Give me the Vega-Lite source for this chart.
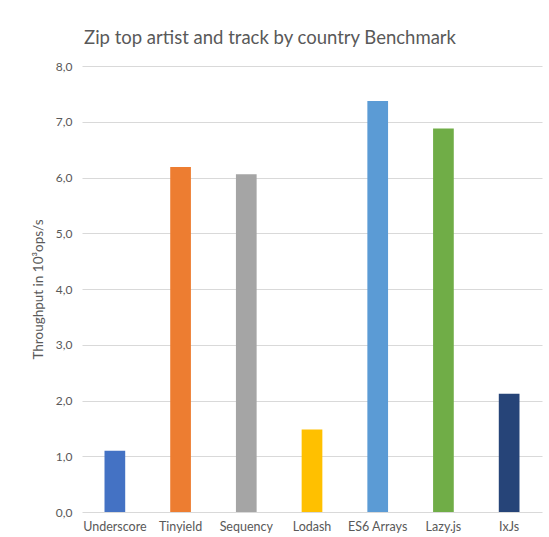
{
  "$schema": "https://vega.github.io/schema/vega-lite/v6.json",
  "autosize": {"type": "none"},
  "width": 460,
  "height": 446,
  "padding": {"left": 82, "top": 66, "right": 7, "bottom": 25},
  "background": "white",
  "title": {
    "text": "Zip top artist and track by country Benchmark",
    "font": "Lato",
    "fontSize": 18.5,
    "fontWeight": "normal",
    "color": "#595959",
    "anchor": "middle",
    "frame": "group",
    "dx": -42,
    "offset": 13
  },
  "data": {
    "values": [
      {"library": "Underscore", "throughput": 1.10},
      {"library": "Tinyield", "throughput": 6.19},
      {"library": "Sequency", "throughput": 6.06},
      {"library": "Lodash", "throughput": 1.48},
      {"library": "ES6 Arrays", "throughput": 7.37},
      {"library": "Lazy.js", "throughput": 6.88},
      {"library": "IxJs", "throughput": 2.12}
    ]
  },
  "mark": {"type": "bar"},
  "encoding": {
    "x": {
      "field": "library",
      "type": "nominal",
      "sort": null,
      "scale": {"paddingInner": 0.685, "paddingOuter": 0.3425},
      "axis": {
        "title": null,
        "labelAngle": 0,
        "labelFont": "Lato",
        "labelFontSize": 12.5,
        "labelColor": "#595959",
        "labelPadding": 8,
        "ticks": false,
        "domain": false,
        "grid": false
      }
    },
    "y": {
      "field": "throughput",
      "type": "quantitative",
      "scale": {"domain": [0, 8], "nice": false},
      "axis": {
        "title": "Throughput in 10³ops/s",
        "titleFont": "Lato",
        "titleFontSize": 13.5,
        "titleFontWeight": "normal",
        "titleColor": "#595959",
        "titlePadding": 10,
        "values": [0, 1, 2, 3, 4, 5, 6, 7, 8],
        "labelExpr": "datum.value + ',0'",
        "labelFont": "Lato",
        "labelFontSize": 12,
        "labelColor": "#595959",
        "labelPadding": 10,
        "ticks": false,
        "domain": false,
        "grid": true,
        "gridColor": "#d9d9d9",
        "gridWidth": 1
      }
    },
    "color": {
      "field": "library",
      "type": "nominal",
      "sort": null,
      "scale": {
        "domain": ["Underscore", "Tinyield", "Sequency", "Lodash", "ES6 Arrays", "Lazy.js", "IxJs"],
        "range": ["#4472C4", "#ED7D31", "#A5A5A5", "#FFC000", "#5B9BD5", "#70AD47", "#264478"]
      },
      "legend": null
    }
  },
  "config": {
    "view": {"stroke": null}
  }
}
